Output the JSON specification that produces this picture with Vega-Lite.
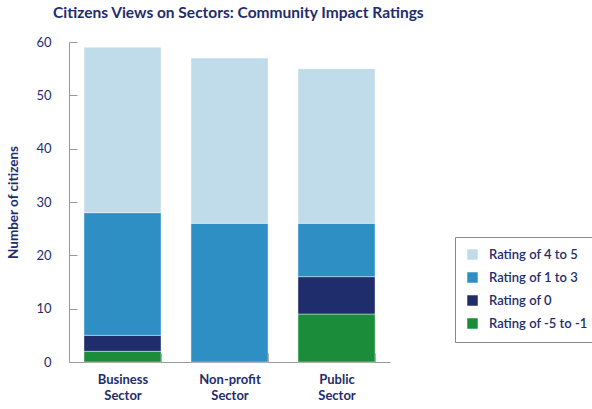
{
  "$schema": "https://vega.github.io/schema/vega-lite/v6.json",
  "autosize": "none",
  "width": 321,
  "height": 320,
  "padding": {"left": 69, "top": 42, "right": 202, "bottom": 47},
  "background": "white",
  "config": {"view": {"stroke": null}, "font": "Lato"},
  "title": {
    "text": "Citizens Views on Sectors: Community Impact Ratings",
    "anchor": "start",
    "frame": "group",
    "dx": -16,
    "offset": 15,
    "fontSize": 15.5,
    "fontWeight": "bold",
    "color": "#1f2d6c",
    "font": "Lato"
  },
  "data": {
    "values": [
      {"sector": "Business Sector", "rating": "Rating of -5 to -1", "rank": 1, "count": 2},
      {"sector": "Business Sector", "rating": "Rating of 0", "rank": 2, "count": 3},
      {"sector": "Business Sector", "rating": "Rating of 1 to 3", "rank": 3, "count": 23},
      {"sector": "Business Sector", "rating": "Rating of 4 to 5", "rank": 4, "count": 31},
      {"sector": "Non-profit Sector", "rating": "Rating of 1 to 3", "rank": 3, "count": 26},
      {"sector": "Non-profit Sector", "rating": "Rating of 4 to 5", "rank": 4, "count": 31},
      {"sector": "Public Sector", "rating": "Rating of -5 to -1", "rank": 1, "count": 9},
      {"sector": "Public Sector", "rating": "Rating of 0", "rank": 2, "count": 7},
      {"sector": "Public Sector", "rating": "Rating of 1 to 3", "rank": 3, "count": 10},
      {"sector": "Public Sector", "rating": "Rating of 4 to 5", "rank": 4, "count": 29}
    ]
  },
  "mark": {"type": "bar", "stroke": "white", "strokeWidth": 0.6, "strokeOpacity": 0.7},
  "encoding": {
    "x": {
      "field": "sector",
      "type": "nominal",
      "sort": null,
      "scale": {"paddingInner": 0.28, "paddingOuter": 0.14},
      "axis": {
        "title": null,
        "labelAngle": 0,
        "labelExpr": "split(datum.label, ' ')",
        "labelFont": "Lato",
        "labelFontWeight": "bold",
        "labelFontSize": 13,
        "labelColor": "#1f2d6c",
        "labelPadding": 20,
        "labelLineHeight": 16,
        "domainColor": "#999999",
        "tickColor": "#999999",
        "tickSize": -9,
        "tickBand": "extent"
      }
    },
    "y": {
      "field": "count",
      "type": "quantitative",
      "stack": "zero",
      "scale": {"domain": [0, 60], "nice": false},
      "axis": {
        "title": "Number of citizens",
        "titleFont": "Lato",
        "titleFontSize": 13.5,
        "titleFontWeight": "bold",
        "titleColor": "#1f2d6c",
        "titlePadding": 15,
        "values": [0, 10, 20, 30, 40, 50, 60],
        "grid": false,
        "labelFont": "Lato",
        "labelFontSize": 13,
        "labelColor": "#1f2d6c",
        "labelPadding": 26,
        "domainColor": "#999999",
        "tickColor": "#999999",
        "tickSize": -8
      }
    },
    "order": {"field": "rank", "type": "quantitative", "sort": "ascending"},
    "color": {
      "field": "rating",
      "type": "nominal",
      "scale": {
        "domain": ["Rating of 4 to 5", "Rating of 1 to 3", "Rating of 0", "Rating of -5 to -1"],
        "range": ["#c0dcea", "#2e8fc4", "#1f2d6c", "#1a8c3a"]
      },
      "legend": {
        "title": null,
        "orient": "none",
        "legendX": 386,
        "legendY": 195,
        "symbolType": "square",
        "symbolSize": 110,
        "symbolStrokeWidth": 0,
        "labelFont": "Lato",
        "labelFontSize": 13,
        "labelFontWeight": 600,
        "labelColor": "#1f2d6c",
        "rowPadding": 9,
        "padding": 11,
        "strokeColor": "#888888",
        "fillColor": "white",
        "labelOffset": 10
      }
    }
  }
}
